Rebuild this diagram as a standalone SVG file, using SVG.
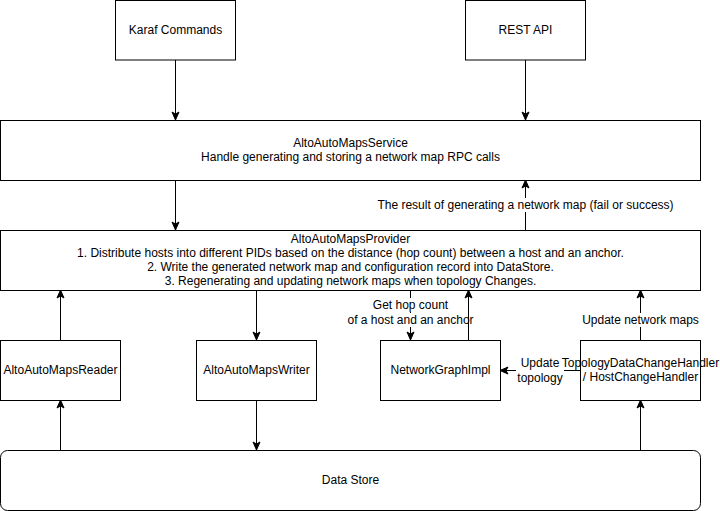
<svg xmlns="http://www.w3.org/2000/svg" width="720" height="511" viewBox="0 0 720 511">
<defs>
<marker id="arr" markerUnits="userSpaceOnUse" markerWidth="10" markerHeight="10" viewBox="0 0 10 10" refX="9" refY="5" orient="auto">
<path d="M1,1.5 L9,5 L1,8.5 L3,5 Z" fill="#000" stroke="#000" stroke-width="1"/>
</marker>
<style>
.box{fill:#fff;stroke:#000;stroke-width:1}
.t{font-family:"Liberation Sans",Arial,Helvetica,sans-serif;font-size:12px;fill:#000;text-anchor:middle}
.e{fill:none;stroke:#000;stroke-width:1;marker-end:url(#arr)}
.lbg{fill:#fff}
</style>
</defs>
<rect x="0" y="0" width="720" height="511" fill="#fff"/>
<g id="connectors">
<path class="e" d="M175.5,60 V120"/>
<path class="e" d="M525.5,60 V120"/>
<path class="e" d="M175.5,180 V230"/>
<path class="e" d="M525.5,230 V180"/>
<path class="e" d="M60.5,340 V290"/>
<path class="e" d="M60.5,450 V400"/>
<path class="e" d="M256.5,290 V340"/>
<path class="e" d="M256.5,400 V450"/>
<path class="e" d="M410.5,290 V340"/>
<path class="e" d="M468.5,340 V290"/>
<path class="e" d="M640.5,340 V290"/>
<path class="e" d="M640.5,450 V400"/>
<path class="e" d="M580,370.5 H500"/>
<g id="label-result">
<rect class="lbg" x="376" y="198" width="299" height="14"/>
<text class="t" x="525.5" y="209">The result of generating a network map (fail or success)</text>
</g>
<g id="label-hop">
<rect class="lbg" x="378" y="298" width="65" height="14"/>
<rect class="lbg" x="346" y="313" width="120" height="14"/>
<text class="t" x="410.5" y="309">Get hop count</text>
<text class="t" x="410.5" y="324">of a host and an anchor</text>
</g>
<g id="label-update-maps">
<rect class="lbg" x="582" y="313" width="118" height="14"/>
<text class="t" x="640.5" y="324">Update network maps</text>
</g>
<g id="label-update-topo">
<rect class="lbg" x="516" y="356" width="48" height="28"/>
<text class="t" x="540" y="367">Update</text>
<text class="t" x="540" y="382">topology</text>
</g>
</g>
<g id="karaf">
<rect class="box" x="115.5" y="0.5" width="120" height="59.5"/>
<text class="t" x="175.5" y="34">Karaf Commands</text>
</g>
<g id="rest">
<rect class="box" x="465.5" y="0.5" width="120" height="59.5"/>
<text class="t" x="525.5" y="34">REST API</text>
</g>
<g id="service">
<rect class="box" x="0.5" y="120.5" width="700" height="60"/>
<text class="t" x="350.5" y="147">AltoAutoMapsService</text>
<text class="t" x="350.5" y="161">Handle generating and storing a network map RPC calls</text>
</g>
<g id="provider">
<rect class="box" x="0.5" y="230.5" width="700" height="60"/>
<text class="t" x="350.5" y="243">AltoAutoMapsProvider</text>
<text class="t" x="350.5" y="257">1. Distribute hosts into different PIDs based on the distance (hop count) between a host and an anchor.</text>
<text class="t" x="350.5" y="271">2. Write the generated network map and configuration record into DataStore.</text>
<text class="t" x="350.5" y="285">3. Regenerating and updating network maps when topology Changes.</text>
</g>
<g id="reader">
<rect class="box" x="0.5" y="340.5" width="120" height="60"/>
<text class="t" x="60.5" y="374">AltoAutoMapsReader</text>
</g>
<g id="writer">
<rect class="box" x="196.5" y="340.5" width="120" height="60"/>
<text class="t" x="256.5" y="374">AltoAutoMapsWriter</text>
</g>
<g id="networkgraph">
<rect class="box" x="380.5" y="340.5" width="120" height="60"/>
<text class="t" x="440.5" y="374">NetworkGraphImpl</text>
</g>
<g id="topologyhandler">
<rect class="box" fill-opacity="0" x="580.5" y="340.5" width="120" height="60"/>
<text class="t" x="640.5" y="367">TopologyDataChangeHandler</text>
<text class="t" x="640.5" y="381">/ HostChangeHandler</text>
</g>
<g id="datastore">
<rect class="box" x="0.5" y="450.5" width="700" height="60" rx="7" ry="7"/>
<text class="t" x="350.5" y="484">Data Store</text>
</g>
</svg>
